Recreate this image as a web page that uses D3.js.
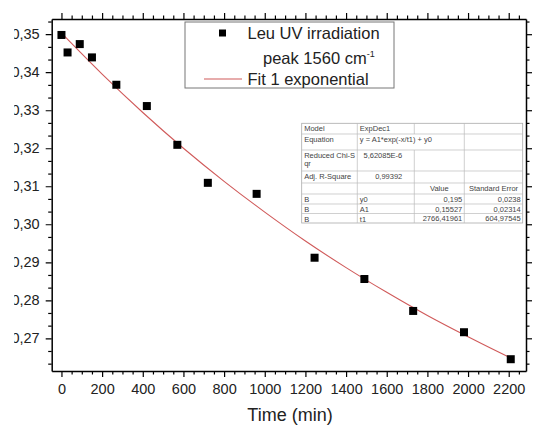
<!DOCTYPE html>
<html>
<head>
<meta charset="utf-8">
<script src="https://cdn.jsdelivr.net/npm/d3@7"></script>
<style>
body { margin: 0; background: #fff; }
svg { font-family: "Liberation Sans", Arial, sans-serif; }
</style>
</head>
<body>
<div id="chart"></div>
<script>
/*-------------------- Données --------------------*/

// points mesurés : temps (min) et intensité du pic
var temps = [0, 30, 90, 150, 270, 420, 570, 720, 960, 1245, 1490, 1730, 1980, 2210];
var intensite = [0.3498, 0.3452, 0.3474, 0.3439, 0.3367, 0.3311, 0.3209, 0.3109, 0.3080, 0.2912, 0.2856, 0.2772, 0.2716, 0.2645];

// courbe d'ajustement
var fitTemps = [0, 200, 400, 600, 800, 1000, 1200, 1400, 1600, 1800, 2000, 2200, 2220];
var fitValeurs = [0.3503, 0.3395, 0.3294, 0.3200, 0.3113, 0.3032, 0.2956, 0.2886, 0.2821, 0.2760, 0.2704, 0.2651, 0.2646];

var xTicks = [0, 200, 400, 600, 800, 1000, 1200, 1400, 1600, 1800, 2000, 2200];
var yTicks = [0.27, 0.28, 0.29, 0.30, 0.31, 0.32, 0.33, 0.34, 0.35];

var legendeTextes = ["Leu UV irradiation", "peak 1560 cm", "Fit 1 exponential"];

// tableau des résultats du fit
var colonneModele = ["Model", "Equation", "Reduced Chi-S|qr", "Adj. R-Square", "", "B", "B", "B"];
var colonneValeur1 = ["ExpDec1", "y = A1*exp(-x/t1) + y0", "5,62085E-6", "0,99392", "", "y0", "A1", "t1"];
var colonneValeur2 = ["", "", "", "", "Value", "0,195", "0,15527", "2766,41961"];
var colonneErreur = ["", "", "", "", "Standard Error", "0,0238", "0,02314", "604,97545"];

/*-------------------- Dessin --------------------*/

var largeur = 533, hauteur = 426;
var bordG = 51.7, bordD = 526, bordH = 19, bordB = 371;
var fmt = d3.format(".2f");

var svg = d3.select("#chart").append("svg")
    .attr("width", largeur)
    .attr("height", hauteur);

var xScale = d3.scaleLinear().domain([-48, 2285]).range([bordG, bordD]);
var yScale = d3.scaleLinear().domain([0.2614, 0.354]).range([bordB, bordH]);

var xMinor = d3.range(-50, 2300, 50).filter(d => d >= -48 && d <= 2285 && d % 200 !== 0);
var yMinor = d3.range(1, 30).map(i => 0.26 + i * 0.01 / 3)
    .filter((d, i) => (i + 1) % 3 !== 0 && d >= 0.2614 && d <= 0.354);

// axe du bas
svg.append("g")
    .attr("transform", "translate(0," + bordB + ")")
    .call(d3.axisBottom(xScale).tickValues(xTicks).tickSize(6).tickSizeOuter(0).tickPadding(7)
        .tickFormat(d3.format("d")))
    .call(g => g.selectAll("text").style("font-size", "14.5px").attr("fill", "#222"));

svg.append("g")
    .attr("transform", "translate(0," + bordB + ")")
    .call(d3.axisBottom(xScale).tickValues(xMinor).tickSize(3.5).tickFormat(""))
    .call(g => g.select(".domain").remove());

// axe du haut
svg.append("g")
    .attr("transform", "translate(0," + bordH + ")")
    .call(d3.axisTop(xScale).tickValues(xTicks).tickSize(6).tickSizeOuter(0).tickFormat(""));

svg.append("g")
    .attr("transform", "translate(0," + bordH + ")")
    .call(d3.axisTop(xScale).tickValues(xMinor).tickSize(3.5).tickFormat(""))
    .call(g => g.select(".domain").remove());

// axe gauche, libellés coupés comme sur l'image
svg.append("clipPath").attr("id", "coupe")
    .append("rect").attr("x", -37.5).attr("y", 0).attr("width", largeur).attr("height", hauteur);

svg.append("g")
    .attr("transform", "translate(" + bordG + ",0)")
    .attr("clip-path", "url(#coupe)")
    .call(d3.axisLeft(yScale).tickValues(yTicks).tickSize(6).tickSizeOuter(0).tickPadding(6)
        .tickFormat(d => fmt(d).replace(".", ",")))
    .call(g => g.selectAll("text").style("font-size", "14.5px").attr("fill", "#222"));

svg.append("g")
    .attr("transform", "translate(" + bordG + ",0)")
    .call(d3.axisLeft(yScale).tickValues(yMinor).tickSize(3.5).tickFormat(""))
    .call(g => g.select(".domain").remove());

// axe droit
svg.append("g")
    .attr("transform", "translate(" + bordD + ",0)")
    .call(d3.axisRight(yScale).tickValues(yTicks).tickSize(6).tickSizeOuter(0).tickFormat(""));

svg.append("g")
    .attr("transform", "translate(" + bordD + ",0)")
    .call(d3.axisRight(yScale).tickValues(yMinor).tickSize(3.5).tickFormat(""))
    .call(g => g.select(".domain").remove());

svg.selectAll(".domain").attr("stroke-width", 1.5);
svg.selectAll(".tick line").attr("stroke-width", 1.2);

// titre de l'axe x
svg.append("text")
    .attr("x", 290)
    .attr("y", 421)
    .attr("text-anchor", "middle")
    .style("font-size", "18px")
    .attr("fill", "#222")
    .text("Time (min)");

// courbe d'ajustement
var ligne = d3.line()
    .x(d => xScale(d[0]))
    .y(d => yScale(d[1]))
    .curve(d3.curveMonotoneX);

svg.append("path")
    .datum(fitTemps.map((t, i) => [t, fitValeurs[i]]))
    .attr("d", ligne)
    .attr("fill", "none")
    .attr("stroke", "#d05a5a")
    .attr("stroke-width", 1.1);

// points
svg.selectAll("rect.point")
    .data(temps.map((t, i) => [t, intensite[i]]))
    .enter()
    .append("rect")
    .attr("class", "point")
    .attr("x", d => xScale(d[0]) - 4)
    .attr("y", d => yScale(d[1]) - 4)
    .attr("width", 8)
    .attr("height", 8)
    .attr("fill", "#000");

// légende
var legende = svg.append("g");
legende.append("rect")
    .attr("x", 185).attr("y", 22).attr("width", 209).attr("height", 66)
    .attr("fill", "#fff").attr("stroke", "#777").attr("stroke-width", 1);
legende.append("rect")
    .attr("x", 219).attr("y", 29.5).attr("width", 7).attr("height", 7).attr("fill", "#000");
legende.append("line")
    .attr("x1", 204).attr("x2", 242).attr("y1", 79).attr("y2", 79)
    .attr("stroke", "#d05a5a").attr("stroke-width", 1.1);

legende.append("text").attr("x", 247.5).attr("y", 39)
    .style("font-size", "16.5px").attr("fill", "#222").text(legendeTextes[0]);
var peak = legende.append("text").attr("x", 263).attr("y", 64)
    .style("font-size", "16.5px").attr("fill", "#222");
peak.append("tspan").text(legendeTextes[1]);
peak.append("tspan").attr("dy", -7).style("font-size", "9px").text("-1");
legende.append("text").attr("x", 247.5).attr("y", 85)
    .style("font-size", "16.5px").attr("fill", "#222").text(legendeTextes[2]);

// tableau
var colX = [301.7, 357.3, 414.3, 464.3, 522.7];
var rowY = [123.3, 134, 150, 171, 183, 194, 204, 213.5, 223];
var tableau = svg.append("g").style("font-size", "7.5px").attr("fill", "#444");

tableau.append("rect")
    .attr("x", colX[0]).attr("y", rowY[0])
    .attr("width", colX[4] - colX[0]).attr("height", rowY[8] - rowY[0])
    .attr("fill", "#fff").attr("stroke", "#aaa").attr("stroke-width", 0.8);

tableau.selectAll("line.h")
    .data(rowY.slice(1, 8))
    .enter().append("line")
    .attr("x1", colX[0]).attr("x2", colX[4])
    .attr("y1", d => d).attr("y2", d => d)
    .attr("stroke", "#bbb").attr("stroke-width", 0.7);

[1, 2, 3].forEach(function(c) {
    // la ligne "Equation" fusionne les colonnes 2 et 3
    var segments = c === 2 ? [[rowY[0], rowY[1]], [rowY[2], rowY[8]]] : [[rowY[0], rowY[8]]];
    segments.forEach(function(s) {
        tableau.append("line")
            .attr("x1", colX[c]).attr("x2", colX[c])
            .attr("y1", s[0]).attr("y2", s[1])
            .attr("stroke", "#bbb").attr("stroke-width", 0.7);
    });
});

colonneModele.forEach(function(t, i) {
    var lignes = t.split("|");
    lignes.forEach(function(l, j) {
        tableau.append("text")
            .attr("x", colX[0] + 2.5)
            .attr("y", rowY[i] + 8 + j * 7.5)
            .text(l);
    });
});

colonneValeur1.forEach(function(t, i) {
    var numerique = (i === 2 || i === 3);
    tableau.append("text")
        .attr("x", numerique ? colX[2] - 12 : colX[1] + 2.5)
        .attr("y", rowY[i] + 8)
        .attr("text-anchor", numerique ? "end" : "start")
        .text(t);
});

[colonneValeur2, colonneErreur].forEach(function(col, k) {
    col.forEach(function(t, i) {
        if (t === "") return;
        var entete = (i === 4);
        tableau.append("text")
            .attr("x", entete ? (colX[2 + k] + colX[3 + k]) / 2 : colX[3 + k] - 2)
            .attr("y", rowY[i] + 7.5)
            .attr("text-anchor", entete ? "middle" : "end")
            .text(t);
    });
});
</script>
</body>
</html>
